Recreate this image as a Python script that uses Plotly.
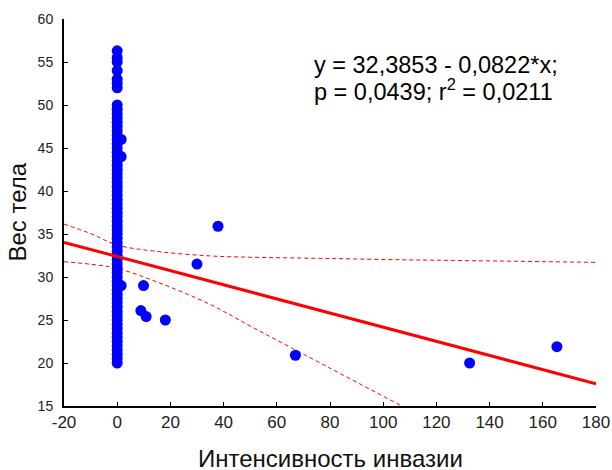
import plotly.graph_objects as go

# body weight vs. invasion intensity
col_x = 0
col_y = [20, 20.5, 21, 21.5, 22, 22.5, 23, 23.5, 24, 24.5, 25, 25.5, 26, 26.5,
         27, 27.5, 28, 28.5, 29, 29.5, 30, 30.5, 31, 31.5, 32, 32.5, 33, 33.5,
         34, 34.5, 35, 35.5, 36, 36.5, 37, 37.5, 38, 38.5, 39, 39.5, 40, 40.5,
         41, 41.5, 42, 42.5, 43, 43.5, 44, 44.5, 45, 45.5, 46, 46.5, 47, 47.5,
         48, 48.5, 49, 49.5, 50, 52, 52.5, 53, 54, 55, 55.5, 56.3]

other_x = [1.5, 1.5, 1.5, 9.9, 8.9, 10.9, 18.1, 30.0, 37.9, 67.0, 132.5, 165.3]
other_y = [46, 44, 29, 29.0, 26.1, 25.4, 25.0, 31.5, 35.9, 20.9, 20.0, 21.9]

intercept = 32.3853
slope = -0.0822
fit_x = [-20, 180]

band_x = [-20, -10, 0, 16, 35, 50, 80, 107, 120, 180]
band_upper = [36.15, 35.05, 33.72, 32.94, 32.45, 32.3, 32.15, 32.0, 31.95, 31.7]
band_lower = [31.78, 31.48, 31.0, 29.3, 26.8, 24.3, 19.4, 15.0, 12.9, 3.5]

x_ticks = [-20, 0, 20, 40, 60, 80, 100, 120, 140, 160, 180]
x_ticklabels = ['-20', '0', '20', '40', '60', '80', '100', '120', '140', '160', '180']
y_ticks = [15, 20, 25, 30, 35, 40, 45, 50, 55, 60]

FONT = 'Arial, Liberation Sans, sans-serif'

x_all = [col_x] * len(col_y) + other_x
y_all = col_y + other_y
fit_y = [intercept + slope * x for x in fit_x]

fig = go.Figure()

for band in (band_upper, band_lower):
    fig.add_trace(go.Scatter(
        x=band_x, y=band, mode='lines', line_shape='spline',
        line=dict(color='#ff0000', width=1, dash='4px,3px'),
        hoverinfo='skip'
    ))

fig.add_trace(go.Scatter(
    x=x_all, y=y_all, mode='markers',
    marker=dict(color='#0000ff', size=11, line=dict(width=0))
))

fig.add_trace(go.Scatter(
    x=fit_x, y=fit_y, mode='lines',
    line=dict(color='#ff0000', width=3)
))

fig.add_annotation(x=73.3, y=54.65, xref='x', yref='y', xanchor='left', yanchor='middle',
                   text='y = 32,3853 - 0,0822*x;', showarrow=False,
                   font=dict(family=FONT, size=23.5, color='#000'))
fig.add_annotation(x=73.3, y=51.8, xref='x', yref='y', xanchor='left', yanchor='middle',
                   text='p = 0,0439; r<sup>2</sup> = 0,0211', showarrow=False,
                   font=dict(family=FONT, size=23.5, color='#000'))

# axis titles placed by hand (standoff is ignored without automargin)
fig.add_annotation(x=0, y=0.5, xref='paper', yref='paper', xanchor='center', yanchor='middle',
                   xshift=-47, textangle=-90, text='Вес тела', showarrow=False,
                   font=dict(family=FONT, size=24, color='#111'))
fig.add_annotation(x=0.5, y=0, xref='paper', yref='paper', xanchor='center', yanchor='middle',
                   yshift=-52, text='Интенсивность инвазии', showarrow=False,
                   font=dict(family=FONT, size=24, color='#111'))

fig.update_layout(
    width=612, height=470,
    margin=dict(l=64, r=16, t=19, b=64),
    paper_bgcolor='white', plot_bgcolor='white',
    showlegend=False,
    font=dict(family=FONT, color='#222'),
)

fig.update_xaxes(
    range=[-20, 180], tickvals=x_ticks, ticktext=x_ticklabels,
    showline=True, linecolor='black', linewidth=2, mirror=False,
    ticks='inside', ticklen=4, tickwidth=1, tickcolor='black',
    showgrid=False, zeroline=False, automargin=False,
    tickfont=dict(size=17, family=FONT, color='#222'),
)
fig.update_yaxes(
    range=[15, 60], tickvals=y_ticks,
    showline=True, linecolor='black', linewidth=2, mirror=False,
    ticks='inside', ticklen=4, tickwidth=1, tickcolor='black',
    showgrid=False, zeroline=False, automargin=False,
    tickfont=dict(size=14, family=FONT, color='#222'),
    ticklabelstandoff=6,
)

# drop the default page margin so the figure fills the window exactly
fig.write_html('out.html', config={'displayModeBar': False},
               post_script="document.body.style.margin = '0';")
